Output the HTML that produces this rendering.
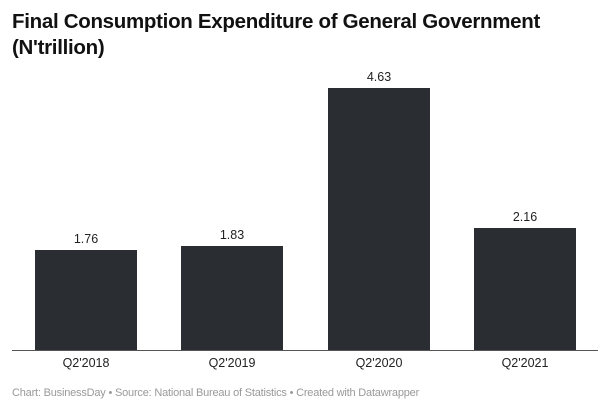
<!DOCTYPE html>
<html><head><style>
body{margin:0;width:606px;height:412px;background:#fff;font-family:"Liberation Sans",sans-serif;overflow:hidden;position:relative}
.t{position:absolute;left:12px;top:9px;font-size:20.5px;font-weight:bold;color:#111;line-height:26px;letter-spacing:-0.3px}
.b{position:absolute;background:#2a2e33;width:102px}
.v,.c{position:absolute;width:102px;text-align:center;font-size:12.5px;color:#222}
.ax{position:absolute;left:12px;width:586px;top:350px;height:1px;background:#555}
.f{position:absolute;left:12px;top:387px;font-size:11px;color:#999;letter-spacing:-0.2px}
</style></head><body>
<div class="t">Final Consumption Expenditure of General Government<br>(N'trillion)</div>
<div class="b" style="left:35px;top:250px;height:100px"></div>
<div class="b" style="left:181px;top:246px;height:104px"></div>
<div class="b" style="left:328px;top:88px;height:262px"></div>
<div class="b" style="left:474px;top:228px;height:122px"></div>
<div class="v" style="left:35px;top:232px">1.76</div>
<div class="v" style="left:181px;top:228px">1.83</div>
<div class="v" style="left:328px;top:70px">4.63</div>
<div class="v" style="left:474px;top:210px">2.16</div>
<div class="ax"></div>
<div class="c" style="left:35px;top:356px">Q2'2018</div>
<div class="c" style="left:181px;top:356px">Q2'2019</div>
<div class="c" style="left:328px;top:356px">Q2'2020</div>
<div class="c" style="left:474px;top:356px">Q2'2021</div>
<div class="f">Chart: BusinessDay • Source: National Bureau of Statistics • Created with Datawrapper</div>
</body></html>
